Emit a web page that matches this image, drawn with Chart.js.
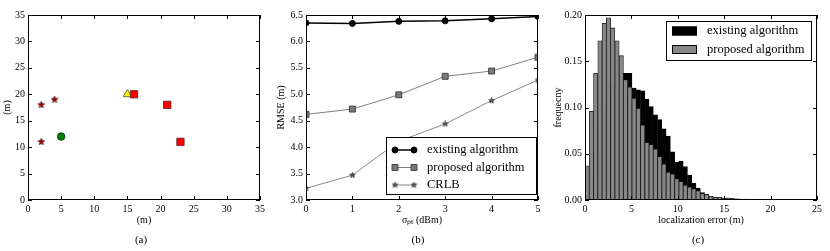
<!DOCTYPE html>
<html>
<head>
<meta charset="utf-8">
<script src="https://cdn.jsdelivr.net/npm/chart.js@4.4.0/dist/chart.umd.min.js"></script>
<style>
body { margin: 0; background: #fff; width: 830px; height: 251px; overflow: hidden; position: relative; font-family: 'Liberation Serif', serif; }
.panel { position: absolute; top: 0; }
.panel canvas { display: block; }
.cap { position: absolute; top: 233px; font-size: 11px; transform: translateX(-50%); color: #000; }
</style>
</head>
<body>
<div class="panel" style="left:0"><canvas id="chartA" width="275" height="251"></canvas></div>
<div class="panel" style="left:275px"><canvas id="chartB" width="275" height="251"></canvas></div>
<div class="panel" style="left:550px"><canvas id="chartC" width="280" height="251"></canvas></div>
<div class="cap" style="left:141px">(a)</div>
<div class="cap" style="left:418px">(b)</div>
<div class="cap" style="left:698px">(c)</div>
<script>
// (a) node positions (m)
let anchorX = [2, 4, 2];
let anchorY = [18, 19, 11];
let targetX = [5];
let targetY = [12];
let refX = [15];
let refY = [20];
let beaconX = [16, 21, 23];
let beaconY = [20, 18, 11];

// (b) RMSE vs sigma
let sigmaValues = [0, 1, 2, 3, 4, 5];
let rmseExisting = [6.35, 6.34, 6.38, 6.39, 6.43, 6.47];
let rmseProposed = [4.62, 4.72, 4.99, 5.34, 5.44, 5.70];
let rmseCrlb = [3.22, 3.47, 4.11, 4.44, 4.88, 5.27];

// (c) histogram of localization error
let binWidth = 0.46;
let freqExisting = [0.010, 0.026, 0.050, 0.076, 0.098, 0.113, 0.124, 0.130, 0.134, 0.137,
                    0.137, 0.121, 0.119, 0.118, 0.109, 0.101, 0.092, 0.087, 0.077, 0.069,
                    0.052, 0.041, 0.042, 0.036, 0.027, 0.018, 0.013, 0.008, 0.006, 0.004,
                    0.003, 0.003, 0.002, 0.002, 0.0015, 0.0012, 0.001, 0.001, 0.0008, 0.0007,
                    0.0006, 0.0005, 0.0005, 0.0004, 0.0003, 0.0003, 0.0002, 0.0002, 0.0002, 0.0001];
let freqProposed = [0.037, 0.096, 0.137, 0.172, 0.191, 0.197, 0.186, 0.172, 0.156, 0.130,
                    0.122, 0.110, 0.099, 0.081, 0.062, 0.060, 0.055, 0.047, 0.039, 0.030,
                    0.028, 0.023, 0.020, 0.016, 0.014, 0.012, 0.010, 0.007, 0.006, 0.004,
                    0.003, 0.003, 0.002, 0.002, 0.0015, 0.001, 0.0008, 0.0006, 0.0005, 0.0004,
                    0.0003, 0.0003, 0.0002, 0.0002, 0.0001, 0.0001, 0.0001, 0, 0, 0];
let binCenters = freqProposed.map((v, i) => i * binWidth + binWidth / 2);

Chart.defaults.font.family = "'Liberation Serif', serif";
Chart.defaults.font.size = 10;
Chart.defaults.color = '#000';

function starImage(size, fill, stroke) {
    let c = document.createElement('canvas');
    c.width = size;
    c.height = size;
    let g = c.getContext('2d');
    let r = size / 2 - 0.5, ri = r * 0.45;
    g.beginPath();
    for (let k = 0; k < 10; k++) {
        let a = -Math.PI / 2 + k * Math.PI / 5;
        let rr = k % 2 ? ri : r;
        g.lineTo(size / 2 + rr * Math.cos(a), size / 2 + rr * Math.sin(a));
    }
    g.closePath();
    g.fillStyle = fill;
    g.fill();
    g.lineWidth = 0.7;
    g.strokeStyle = stroke;
    g.stroke();
    return c;
}

function pairs(xs, ys) {
    return xs.map((x, i) => ({ x: x, y: ys[i] }));
}

// inward ticks on all four sides + black frame
const frameTicks = {
    id: 'frameTicks',
    afterDatasetsDraw(chart) {
        let ctx = chart.ctx, a = chart.chartArea;
        let x = chart.scales.x, y = chart.scales.y;
        let len = 4;
        ctx.save();
        ctx.strokeStyle = '#000';
        ctx.lineWidth = 1;
        ctx.beginPath();
        x.ticks.forEach(t => {
            let px = Math.round(x.getPixelForValue(t.value)) + 0.5;
            ctx.moveTo(px, a.bottom); ctx.lineTo(px, a.bottom - len);
            ctx.moveTo(px, a.top); ctx.lineTo(px, a.top + len);
        });
        y.ticks.forEach(t => {
            let py = Math.round(y.getPixelForValue(t.value)) + 0.5;
            ctx.moveTo(a.left, py); ctx.lineTo(a.left + len, py);
            ctx.moveTo(a.right, py); ctx.lineTo(a.right - len, py);
        });
        ctx.stroke();
        ctx.strokeRect(a.left + 0.5, a.top + 0.5, a.right - a.left - 1, a.bottom - a.top - 1);
        ctx.restore();
    }
};

// matplotlib-like boxed legend
const boxLegend = {
    id: 'boxLegend',
    afterDraw(chart, args, opts) {
        if (!opts.show) return;
        let ctx = chart.ctx, a = chart.chartArea;
        let left = opts.right != null ? a.right - opts.right - opts.width : a.left + opts.left;
        let top = opts.bottom != null ? a.bottom - opts.bottom - opts.height : a.top + opts.top;
        ctx.save();
        ctx.fillStyle = '#fff';
        ctx.fillRect(left, top, opts.width, opts.height);
        ctx.strokeStyle = '#000';
        ctx.lineWidth = 1;
        ctx.strokeRect(Math.round(left) + 0.5, Math.round(top) + 0.5, opts.width, opts.height);
        chart.data.datasets.forEach((ds, i) => {
            let k = opts.order ? opts.order[i] : i;
            let cy = top + opts.firstRow + k * opts.rowGap;
            let hx0 = left + opts.handleLeft, hx1 = hx0 + opts.handleWidth;
            if (opts.kind === 'line') {
                ctx.strokeStyle = ds.borderColor;
                ctx.lineWidth = ds.borderWidth;
                ctx.beginPath();
                ctx.moveTo(hx0, cy); ctx.lineTo(hx1, cy);
                ctx.stroke();
                ctx.fillStyle = ds.pointBackgroundColor;
                ctx.strokeStyle = ds.pointBorderColor;
                ctx.lineWidth = ds.pointBorderWidth;
                let po = { pointStyle: ds.pointStyle, radius: ds.pointRadius, rotation: 0, borderWidth: ds.pointBorderWidth };
                Chart.helpers.drawPoint(ctx, po, hx0, cy);
                Chart.helpers.drawPoint(ctx, po, hx1, cy);
            } else {
                ctx.fillStyle = ds.backgroundColor;
                ctx.fillRect(hx0, cy - 4.5, opts.handleWidth, 9);
                ctx.strokeStyle = '#000';
                ctx.lineWidth = 1;
                ctx.strokeRect(hx0 + 0.5, cy - 4, opts.handleWidth - 1, 8);
            }
            ctx.fillStyle = '#000';
            ctx.font = opts.fontSize + "px 'Liberation Serif', serif";
            ctx.textBaseline = 'middle';
            ctx.fillText(ds.label, left + opts.textLeft, cy);
        });
        ctx.restore();
    }
};

Chart.register(frameTicks, boxLegend);

function linAxis(min, max, step, title, fixed, digits, titlePad) {
    return {
        type: 'linear', min: min, max: max, offset: false,
        grid: { display: false, drawTicks: false },
        border: { display: false },
        ticks: {
            stepSize: step, padding: 3, autoSkip: false, maxRotation: 0,
            callback: v => digits ? Number(v).toFixed(digits) : String(v)
        },
        title: { display: true, text: title, padding: titlePad },
        afterFit: s => { if (s.isHorizontal()) s.height = fixed; else s.width = fixed; }
    };
}

function baseOptions(pad) {
    return {
        responsive: false, animation: false, devicePixelRatio: 1,
        layout: { padding: pad },
        plugins: { legend: { display: false }, tooltip: { enabled: false } }
    };
}

// ---- (a) ----
let optsA = baseOptions({ left: 0, top: 15, right: 15, bottom: 21 });
optsA.scales = {
    x: linAxis(0, 35, 5, '(m)', 30, 0, { top: 2, bottom: 4 }),
    y: linAxis(0, 35, 5, '(m)', 28, 0, { top: 1, bottom: 1 })
};
optsA.plugins.boxLegend = { show: false };
new Chart(document.getElementById('chartA'), {
    type: 'scatter',
    data: {
        datasets: [
            { label: 'beacon', data: pairs(beaconX, beaconY), pointStyle: 'rect', pointRadius: 5.2,
              backgroundColor: '#ff0000', borderColor: '#552222', borderWidth: 0.8 },
            { label: 'reference', data: pairs(refX, refY), pointStyle: 'triangle', pointRadius: 4.8,
              backgroundColor: '#ffff00', borderColor: '#555533', borderWidth: 0.8 },
            { label: 'target', data: pairs(targetX, targetY), pointStyle: 'circle', pointRadius: 3.8,
              backgroundColor: '#008000', borderColor: '#113311', borderWidth: 0.8 },
            { label: 'anchor', data: pairs(anchorX, anchorY), pointStyle: starImage(8, '#b00000', '#330000'),
              pointRadius: 4 }
        ]
    },
    options: optsA
});

// ---- (b) ----
let optsB = baseOptions({ left: 0, top: 15, right: 12, bottom: 21 });
optsB.scales = {
    x: linAxis(0, 5, 1, 'σₚₜ (dBm)', 30, 0, { top: 2, bottom: 4 }),
    y: linAxis(3.0, 6.5, 0.5, 'RMSE (m)', 31, 1, { top: 0, bottom: 0 })
};
optsB.plugins.boxLegend = {
    show: true, kind: 'line', right: 2, bottom: 6, width: 150, height: 57,
    firstRow: 13, rowGap: 17.5, handleLeft: 9, handleWidth: 19, textLeft: 41, fontSize: 12.5
};
new Chart(document.getElementById('chartB'), {
    type: 'line',
    data: {
        labels: sigmaValues,
        datasets: [
            { label: 'existing algorithm', data: pairs(sigmaValues, rmseExisting),
              borderColor: '#000', borderWidth: 1.5, pointStyle: 'circle', pointRadius: 3,
              pointBackgroundColor: '#000', pointBorderColor: '#000', pointBorderWidth: 1 },
            { label: 'proposed algorithm', data: pairs(sigmaValues, rmseProposed),
              borderColor: '#808080', borderWidth: 1, pointStyle: 'rect', pointRadius: 4.2,
              pointBackgroundColor: '#7a7a7a', pointBorderColor: '#444', pointBorderWidth: 1 },
            { label: 'CRLB', data: pairs(sigmaValues, rmseCrlb),
              borderColor: '#8a8a8a', borderWidth: 1, pointStyle: starImage(7, '#555', '#333'), pointRadius: 3.5,
              pointBackgroundColor: '#555', pointBorderColor: '#333', pointBorderWidth: 0.6 }
        ]
    },
    options: optsB
});

// ---- (c) ----
let optsC = baseOptions({ left: 0, top: 15, right: 13, bottom: 21 });
optsC.scales = {
    x: linAxis(0, 25, 5, 'localization error (m)', 30, 0, { top: 2, bottom: 4 }),
    y: linAxis(0, 0.2, 0.05, 'frequecny', 35, 2, { top: 2, bottom: 2 })
};
optsC.plugins.boxLegend = {
    show: true, kind: 'bar', right: 6, top: 6, width: 145, height: 39, order: [1, 0],
    firstRow: 10, rowGap: 18.5, handleLeft: 6, handleWidth: 25, textLeft: 41, fontSize: 12.5
};
new Chart(document.getElementById('chartC'), {
    type: 'bar',
    data: {
        datasets: [
            { label: 'proposed algorithm', data: pairs(binCenters, freqProposed),
              backgroundColor: '#888888', borderColor: '#1a1a1a', borderWidth: 0.8,
              barPercentage: 1, categoryPercentage: 1, grouped: false },
            { label: 'existing algorithm', data: pairs(binCenters, freqExisting),
              backgroundColor: '#000', borderColor: '#000', borderWidth: 0.8,
              barPercentage: 1, categoryPercentage: 1, grouped: false }
        ]
    },
    options: optsC
});
</script>
</body>
</html>
